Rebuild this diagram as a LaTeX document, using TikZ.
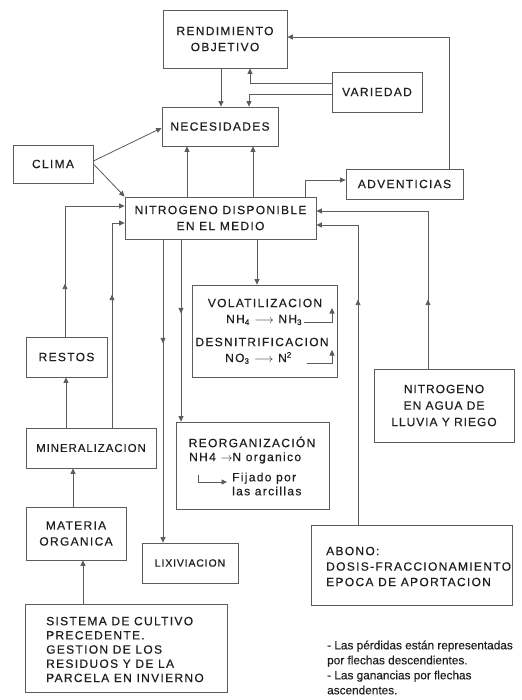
\documentclass[tikz,border=0pt]{standalone}
\usepackage{fontspec}
\setmainfont{Liberation Sans}
\newfontfamily\capsfont{Liberation Sans}[LetterSpace=11,FakeBold=0.4]
\newfontfamily\tightfont{Liberation Sans}[LetterSpace=8,FakeBold=0.4]
\newfontfamily\notefont{Liberation Sans}[FakeBold=0.3]
\usetikzlibrary{arrows.meta,decorations.markings}

\definecolor{ink}{gray}{0.12}
\definecolor{linegray}{gray}{0.36}

\begin{document}
\begin{tikzpicture}[x=1pt,y=-1pt,
  box/.style={draw=linegray, line width=0.8pt, inner sep=0pt, align=center,
    text=ink, font=\capsfont\fontsize{12}{16}\selectfont},
  lbl/.style={inner sep=0pt, text=ink, font=\capsfont\fontsize{12}{16}\selectfont},
  arr/.style={draw=linegray, line width=0.8pt, -{Triangle[length=5.5pt,width=5pt]}},
  midtip/.style={postaction={decorate}, decoration={markings,
    mark=at position #1 with {\arrow{Triangle[length=5.5pt,width=5pt]}}}},
]
\useasboundingbox (0,0) rectangle (521,700);
\fill[white] (0,0) rectangle (521,700);

% ---- boxes ----
\node[box, minimum width=124pt, minimum height=58pt] (rend) at (225,39) {RENDIMIENTO\\OBJETIVO};
\node[box, minimum width=90pt, minimum height=40pt] (varied) at (377,92) {VARIEDAD};
\node[box, minimum width=116pt, minimum height=39pt] (neces) at (220,126.5) {NECESIDADES};
\node[box, minimum width=80pt, minimum height=38pt] (clima) at (53,164) {CLIMA};
\node[box, minimum width=117pt, minimum height=30pt] (advent) at (404.5,184) {ADVENTICIAS};
\node[box, minimum width=191pt, minimum height=42pt] (ndm) at (220.5,218) {NITROGENO DISPONIBLE\\EN EL MEDIO};
\node[box, minimum width=145pt, minimum height=92pt] (volat) at (264.5,331) {};
\node[box, minimum width=81pt, minimum height=40pt] (restos) at (66.5,357) {RESTOS};
\node[box, minimum width=153pt, minimum height=87pt] (reorg) at (252.5,465.5) {};
\node[box, minimum width=140pt, minimum height=73pt, font=\tightfont\fontsize{12}{16.5}\selectfont] (agua) at (444,405.5) {NITROGENO\\EN AGUA DE\\LLUVIA Y RIEGO};
\node[box, minimum width=130pt, minimum height=40pt, font=\tightfont\fontsize{11.5}{16}\selectfont] (miner) at (91,448) {MINERALIZACION};
\node[box, minimum width=100pt, minimum height=53pt] (materia) at (76,533.5) {MATERIA\\ORGANICA};
\node[box, minimum width=96pt, minimum height=40pt, font=\tightfont\fontsize{10.5}{14}\selectfont] (lixiv) at (190,563) {LIXIVIACION};
\node[box, minimum width=201pt, minimum height=80pt] (abono) at (411.5,565) {};
\node[box, minimum width=202pt, minimum height=88pt] (sistema) at (126,648) {};

% ---- texts set inside the open boxes ----
\node[lbl] (vt1) at (265,303) {VOLATILIZACION};
\node[lbl, anchor=west] (vt2) at (226,320) {NH\textsubscript{4} $\longrightarrow$ NH\textsubscript{3}};
\node[lbl] (vt3) at (262,342) {DESNITRIFICACION};
\node[lbl, anchor=west] (vt4) at (225,358) {NO\textsubscript{3} $\longrightarrow$ N\textsuperscript{2}};

\node[lbl] (rg1) at (252,442) {REORGANIZACIÓN};
\node[lbl, anchor=west] (rg2) at (189,458) {NH4 $\rightarrow$N organico};
\node[lbl, anchor=west, align=left, font=\capsfont\fontsize{12}{14}\selectfont] (rg3) at (232,484) {Fijado por\\las arcillas};

\node[lbl, anchor=west, align=left, font=\capsfont\fontsize{12}{15.5}\selectfont] (abonoTxt) at (326,566.5) {ABONO:\\DOSIS-FRACCIONAMIENTO\\EPOCA DE APORTACION};
\node[lbl, anchor=west, align=left, font=\capsfont\fontsize{12}{14.2}\selectfont] (sistemaTxt) at (46,649.5) {SISTEMA DE CULTIVO\\PRECEDENTE.\\GESTION DE LOS\\RESIDUOS Y DE LA\\PARCELA EN INVIERNO};

\node[lbl, anchor=west, align=left, font=\notefont\fontsize{11.8}{15}\selectfont] (legend) at (327,667.5) {- Las pérdidas están representadas\\por flechas descendientes.\\- Las ganancias por flechas\\ascendentes.};

% ---- free ends of the small arrows ----
\coordinate (vtA) at (332,308);
\coordinate (vtC) at (307,363);
\coordinate (vtD) at (332,350);
\coordinate (rgA) at (198,475);
\coordinate (rgB) at (227,482);

% ---- connectors ----
\draw[arr] (rend.south -| 221,0) -- (neces.north -| 221,0);
\draw[arr] (varied.west |- 0,83) -| (rend.south -| 250,0);
\draw[arr] (varied.west |- 0,94) -| (neces.north -| 249,0);
\draw[arr] (advent.north -| 449,0) |- (rend.east |- 0,37);
\draw[arr] (ndm.north -| 305,0) |- (advent.west |- 0,180);
\draw[arr] (ndm.north -| 187,0) -- (neces.south -| 187,0);
\draw[arr] (ndm.north -| 253,0) -- (neces.south -| 253,0);
\draw[arr] (clima.east |- 0,161) -- (neces.west |- 0,128);
\draw[arr] (clima.east |- 0,164) -- (ndm.north west);

\draw[arr, midtip=53pt] (restos.north -| 65,0) |- (ndm.west |- 0,206);
\draw[arr, midtip=133pt] (miner.north -| 112,0) |- (ndm.west |- 0,223);
\draw[arr] (miner.north -| 66,0) -- (restos.south -| 66,0);
\draw[arr] (materia.north -| 73,0) -- (miner.south -| 73,0);
\draw[arr] (sistema.north -| 83,0) -- (materia.south -| 83,0);

\draw[arr, midtip=104pt] (ndm.south -| 163,0) -- (lixiv.north -| 163,0);
\draw[arr, midtip=74pt] (ndm.south -| 181,0) -- (reorg.north -| 181,0);
\draw[arr] (ndm.south -| 257,0) -- (volat.north -| 257,0);

\draw[arr, midtip=225pt] (abono.north -| 358,0) |- (ndm.east |- 0,225);
\draw[arr, midtip=69pt] (agua.north -| 428,0) |- (ndm.east |- 0,211);

\draw[arr] (vt2.east) ++(2,2) -| (vtA);
\draw[arr] (vtC) -| (vtD);
\draw[arr] (rgA) |- (rgB);
\end{tikzpicture}
\end{document}
